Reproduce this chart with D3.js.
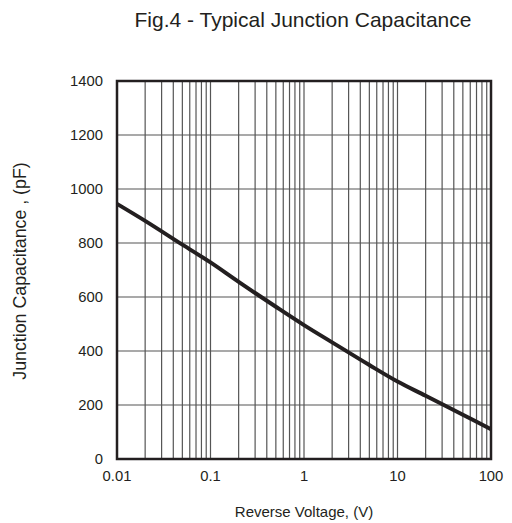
<!DOCTYPE html>
<html>
<head>
<meta charset="utf-8">
<script src="https://cdn.jsdelivr.net/npm/d3@7"></script>
<style>
  body { margin: 0; background: #fff; }
  text { font-family: "Liberation Sans", Arial, sans-serif; fill: #231f20; }
</style>
</head>
<body>
<svg id="chart"></svg>
<script>
// Data
const voltage = [0.01, 0.02, 0.05, 0.1, 0.2, 0.5, 1, 2, 5, 10, 20, 50, 100];
const capacitance = [945, 882, 794, 728, 656, 564, 496, 432, 348, 287, 234, 164, 110];

const xTicks = [0.01, 0.1, 1, 10, 100];
const xTickLabels = ["0.01", "0.1", "1", "10", "100"];
const yTicks = [0, 200, 400, 600, 800, 1000, 1200, 1400];

const margin = { top: 81, right: 21, bottom: 64, left: 117 };
const width = 512 - margin.left - margin.right;
const height = 523 - margin.top - margin.bottom;

const svg = d3.select("#chart")
    .attr("width", 512)
    .attr("height", 523);

const g = svg.append("g")
    .attr("transform", `translate(${margin.left},${margin.top})`);

const x = d3.scaleLog().domain([0.01, 100]).range([0, width]);
const y = d3.scaleLinear().domain([0, 1400]).range([height, 0]);

// vertical grid: 1..9 in each decade
const minor = [];
for (let d = 0.01; d < 100; d *= 10) {
    for (let k = 1; k < 10; k++) minor.push(d * k);
}
g.selectAll("line.vgrid")
    .data(minor.filter(v => v > 0.01))
    .enter()
    .append("line")
    .attr("class", "vgrid")
    .attr("x1", d => x(d))
    .attr("x2", d => x(d))
    .attr("y1", 0)
    .attr("y2", height)
    .attr("stroke", "#555")
    .attr("stroke-width", 1.2);

g.selectAll("line.hgrid")
    .data(yTicks.slice(1, -1))
    .enter()
    .append("line")
    .attr("class", "hgrid")
    .attr("x1", 0)
    .attr("x2", width)
    .attr("y1", d => y(d))
    .attr("y2", d => y(d))
    .attr("stroke", "#555")
    .attr("stroke-width", 1.2);

// frame
g.append("rect")
    .attr("width", width)
    .attr("height", height)
    .attr("fill", "none")
    .attr("stroke", "#231f20")
    .attr("stroke-width", 2.5);

// curve
const line = d3.line()
    .x((d, i) => x(voltage[i]))
    .y(d => y(d))
    .curve(d3.curveCatmullRom);

g.append("path")
    .datum(capacitance)
    .attr("d", line)
    .attr("fill", "none")
    .attr("stroke", "#231f20")
    .attr("stroke-width", 4);

// tick labels
g.selectAll("text.xtick")
    .data(xTicks)
    .enter()
    .append("text")
    .attr("class", "xtick")
    .attr("x", d => x(d))
    .attr("y", height + 22)
    .attr("text-anchor", "middle")
    .style("font-size", "14.8px")
    .text((d, i) => xTickLabels[i]);

g.selectAll("text.ytick")
    .data(yTicks)
    .enter()
    .append("text")
    .attr("class", "ytick")
    .attr("x", -14)
    .attr("y", d => y(d))
    .attr("dy", "0.35em")
    .attr("text-anchor", "end")
    .style("font-size", "14.8px")
    .text(d => d);

// titles
svg.append("text")
    .attr("x", 303)
    .attr("y", 27)
    .attr("text-anchor", "middle")
    .style("font-size", "21px")
    .text("Fig.4 - Typical Junction Capacitance");

svg.append("text")
    .attr("x", 304)
    .attr("y", 517)
    .attr("text-anchor", "middle")
    .style("font-size", "15px")
    .text("Reverse Voltage, (V)");

svg.append("text")
    .attr("transform", "translate(26,271) rotate(-90)")
    .attr("text-anchor", "middle")
    .style("font-size", "17.8px")
    .text("Junction Capacitance , (pF)");
</script>
</body>
</html>
